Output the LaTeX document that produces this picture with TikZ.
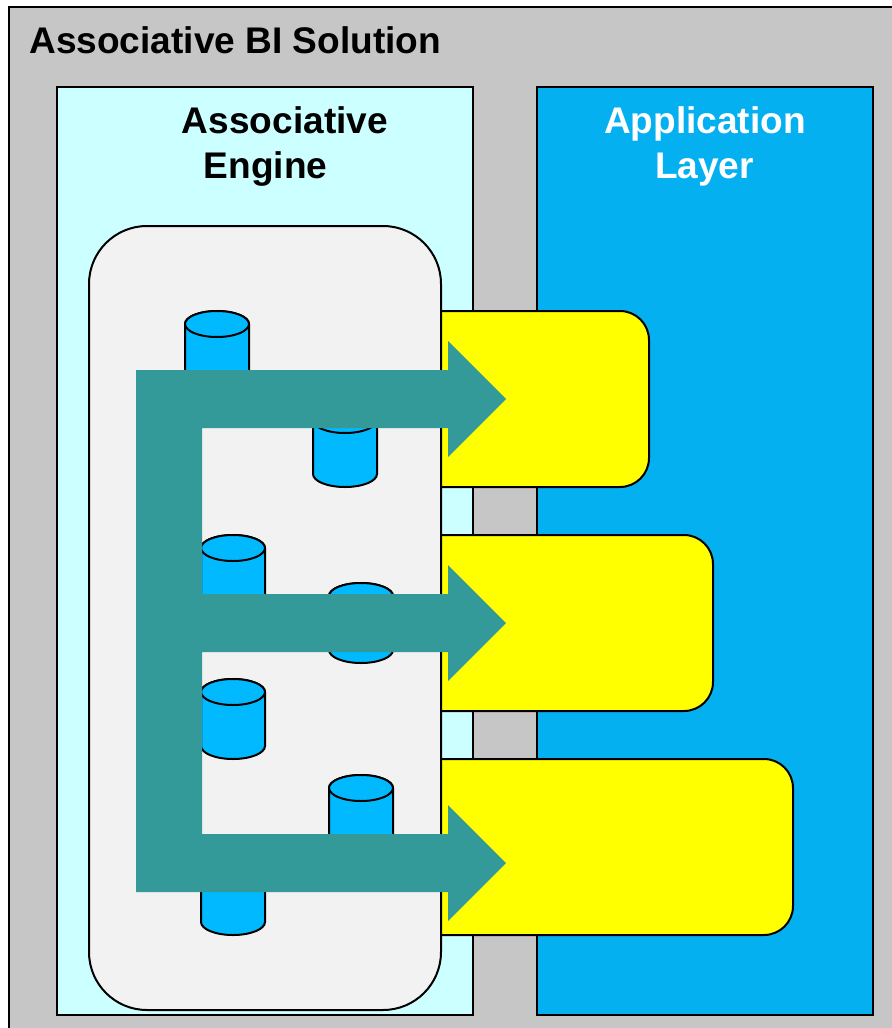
\documentclass[tikz,border=0pt]{standalone}
\usepackage{fontspec}
\setmainfont{Liberation Sans}
\definecolor{solutiongray}{HTML}{C6C6C6}
\definecolor{enginecyan}{HTML}{CCFFFF}
\definecolor{layerblue}{HTML}{04B0F0}
\definecolor{poolgray}{HTML}{F2F2F2}
\definecolor{dbblue}{HTML}{00B9FF}
\definecolor{flowteal}{HTML}{339999}
\definecolor{tabyellow}{HTML}{FFFF00}
\tikzset{
    panel/.style={draw=black, line width=1.5pt},
    tab/.style={panel, fill=tabyellow, rounded corners=21.75pt},
    dbcyl/.pic={
        \draw[panel, fill=dbblue] (-32, 13) -- (-32, 67) arc[start angle=180, end angle=0, x radius=32, y radius=13]
            -- (32, 13) arc[start angle=0, end angle=-180, x radius=32, y radius=13];
        \draw[panel, fill=dbblue] (0, 13) ellipse[x radius=32, y radius=13];
    },
    title/.style={font=\bfseries\fontsize{27.8}{32}\selectfont, inner sep=0pt, anchor=base}
}
\begin{document}
\begin{tikzpicture}[x=0.75pt, y=-0.75pt]
            \useasboundingbox (0, 0) rectangle (892, 1028);
            \coordinate (S) at (9, 7);
            \fill[solutiongray] (S) rectangle (892, 1028);
            \draw[panel] (892, 7) -- (S) -- (9, 1028);
            \draw[panel, fill=enginecyan] (57, 87) rectangle (473, 1015);
            \draw[panel, fill=layerblue] (537, 87) rectangle (873, 1015);
            \draw[tab] (400, 311) rectangle (649, 487);
            \draw[tab] (400, 535) rectangle (713, 711);
            \draw[tab] (400, 759) rectangle (793, 935);
            \draw[panel, fill=poolgray, rounded corners=43.5pt] (89, 226) rectangle (441, 1010);
            \pic (db1) at (217, 311) {dbcyl};
            \pic (db2) at (345, 407) {dbcyl};
            \pic (db3) at (233, 535) {dbcyl};
            \pic (db4) at (361, 583) {dbcyl};
            \pic (db5) at (233, 679) {dbcyl};
            \pic (db6) at (361, 775) {dbcyl};
            \pic (db7) at (233, 855) {dbcyl};
            \fill[flowteal] (136, 370) -- (448, 370) -- (448, 341) -- (506, 399) -- (448, 457) -- (448, 428)
                -- (202, 428) -- (202, 594) -- (448, 594) -- (448, 565) -- (506, 623) -- (448, 681) -- (448, 652)
                -- (202, 652) -- (202, 834) -- (448, 834) -- (448, 805) -- (506, 863) -- (448, 921) -- (448, 892)
                -- (136, 892) -- cycle;
            \node[title, anchor=base west] (solution) at (29, 53) {Associative BI Solution};
            \node[title] (engine1) at (285, 133) {Associative};
            \node[title] (engine2) at (265.5, 178) {Engine};
            \node[title, white] (layer1) at (705, 133) {Application};
            \node[title, white] (layer2) at (704.5, 178) {Layer};
        \end{tikzpicture}
\end{document}
